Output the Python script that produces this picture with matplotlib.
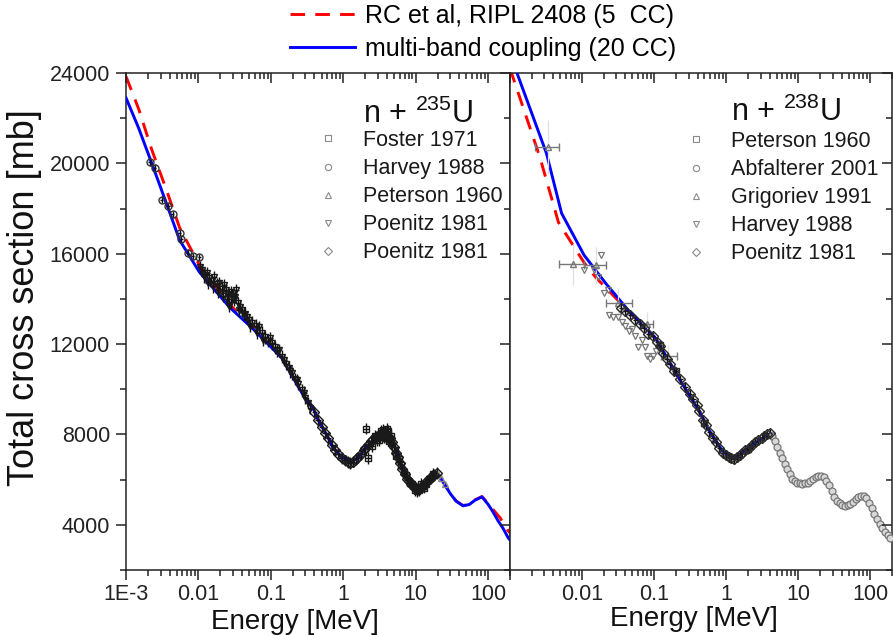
import matplotlib
matplotlib.use('Agg')
import matplotlib.pyplot as plt
from matplotlib.lines import Line2D
from matplotlib.ticker import FixedLocator, LogLocator, FuncFormatter, NullFormatter, MultipleLocator
import numpy as np

plt.rcParams['font.family'] = ['Liberation Sans', 'DejaVu Sans']
plt.rcParams['mathtext.default'] = 'regular'
plt.rcParams['axes.linewidth'] = 1.1

# ---------------- data ----------------
x_ticks = [1e-3, 1e-2, 1e-1, 1, 10, 100]
x_ticklabels = ['1E-3', '0.01', '0.1', '1', '10', '100']
y_ticks = [4000, 8000, 12000, 16000, 20000, 24000]

# n + U235 model curves
E235_model = [0.001, 0.0015, 0.00227, 0.0035, 0.0055, 0.0103, 0.0267, 0.0563, 0.14, 0.29, 0.38, 0.45,
              0.62, 0.716, 0.85, 1.25, 1.6, 2.0, 2.6, 3.2, 3.7, 4.4, 5.2, 6.2, 7.8, 9.6, 11, 13.6,
              17, 19.6, 22, 26, 30, 36, 45, 55, 65, 82, 100, 115, 137, 160, 189, 200]
S235_multiband = [22900, 21550, 20000, 18350, 16600, 15190, 13640, 12680, 11400, 9650, 9200, 8650,
                  7850, 7430, 7150, 6750, 6970, 7370, 7720, 7950, 8040, 7860, 7420, 6710, 6080, 5730, 5640, 5860,
                  6170, 6300, 6080, 5700, 5380, 5050, 4840, 4900, 5080, 5240, 4900, 4600, 4175, 3850, 3420, 3330]
E235_rc = [0.001, 0.0015, 0.00227, 0.0035, 0.0055, 0.0103, 0.0267, 0.0563, 0.14, 0.29, 0.38, 0.45,
           0.62, 0.716, 0.85, 1.25, 1.6, 2.0, 2.6, 3.2, 3.7, 4.4, 5.2, 6.2, 7.8, 9.6, 11, 13.6,
           17, 19.6, 22, 26, 30, 36, 45, 55, 65, 82, 100, 115, 146, 170, 189, 200]
S235_rc = [23850, 22400, 20600, 18950, 17150, 15500, 13760, 12760, 11450, 9680, 9220, 8660,
           7860, 7440, 7160, 6760, 6980, 7380, 7730, 7960, 8050, 7870, 7430, 6720, 6090, 5740, 5650, 5870,
           6180, 6310, 6090, 5710, 5390, 5060, 4850, 4920, 5100, 5250, 4950, 4700, 4310, 3950, 3730, 3650]

# n + U235 experiments
E235_foster = [2.07, 2.2, 2.5, 2.9, 3.3, 3.5, 3.7, 3.9, 4.1, 4.3, 4.6, 5.1, 5.8, 6.8, 8.3, 9.8,
               11.2, 12.0, 14.0, 17.5, 2.7, 3.1, 3.6, 4.0, 4.5, 5.4, 6.3, 7.3, 9.0, 10.5, 12.8, 15.0]
S235_foster = [8260, 6970, 7500, 7750, 8150, 8200, 8100, 7850, 8150, 7700, 7600, 7300, 6900, 6350,
               5850, 5550, 5550, 5800, 5800, 6250, 7950, 7750, 7900, 8250, 7950, 7050, 6650, 6200,
               5800, 5500, 5650, 6050]
E235_harvey = [0.00213, 0.0025, 0.0031, 0.0038, 0.0044, 0.0055, 0.0058, 0.0071, 0.0083, 0.0103]
S235_harvey = [20050, 19800, 18400, 18100, 17750, 16900, 16650, 16050, 15900, 15850]
E235_peterson = [20.5, 22.0, 25.6]
S235_peterson = [6250, 6080, 5820]
E235_poenitz_a = [0.0105, 0.0113, 0.0122, 0.0132, 0.0141, 0.0150, 0.0165, 0.0178, 0.0194, 0.0210,
                  0.0225, 0.0241, 0.0255, 0.0266, 0.0280, 0.0292, 0.0310, 0.0331, 0.0350, 0.0375,
                  0.0401, 0.0440, 0.0470, 0.050, 0.055, 0.062, 0.068, 0.075, 0.083, 0.092, 0.103,
                  0.115, 0.128, 0.143, 0.160, 0.177, 0.194, 0.215, 0.240, 0.270, 0.300, 0.330, 0.350,
                  0.0118, 0.0136, 0.0158, 0.0186, 0.0218, 0.0248, 0.0286, 0.0320, 0.0362, 0.0420,
                  0.0520, 0.0650, 0.0790, 0.0970, 0.122, 0.152, 0.185, 0.228, 0.285]
S235_poenitz_a = [15400, 15260, 15050, 15150, 14910, 14800, 14950, 14650, 14690, 14450,
                  14600, 14380, 14200, 13700, 14300, 14150, 13950, 14380, 13800, 13650,
                  13490, 13350, 13200, 13050, 12950, 12820, 12750, 12500, 12300, 12150, 12030,
                  11850, 11720, 11450, 11140, 10950, 10700, 10450, 10250, 9950, 9630, 9400, 9190,
                  15000, 14700, 14550, 14300, 14150, 14000, 13850, 14100, 13500, 13300,
                  12800, 12500, 12200, 12250, 11700, 11300, 10800, 10400, 9850]
E235_poenitz_b = [0.40, 0.45, 0.50, 0.56, 0.62, 0.70, 0.78, 0.85, 0.95, 1.05, 1.15, 1.25, 1.35, 1.5,
                  1.6, 1.75, 1.9, 2.0, 2.2, 2.4, 2.6, 2.8, 3.0, 3.2, 3.4, 3.6, 3.8, 4.0, 4.2, 4.4,
                  4.7, 5.0, 5.3, 5.6, 6.0, 6.5, 7.0, 7.5, 8.0, 8.6, 9.3, 10.0, 10.8, 11.6, 12.5,
                  13.5, 14.5, 15.5, 16.8, 18.0, 19.5]
S235_poenitz_b = [9000, 8650, 8350, 8050, 7850, 7550, 7300, 7150, 6950, 6850, 6780, 6750, 6800, 6900,
                  6980, 7150, 7300, 7400, 7550, 7700, 7800, 7900, 7950, 8000, 8050, 8050, 8000, 7950,
                  7900, 7850, 7650, 7450, 7200, 7000, 6750, 6450, 6250, 6050, 5950, 5800, 5700, 5650,
                  5600, 5650, 5700, 5850, 5950, 6050, 6150, 6200, 6280]

# n + U238 model curves
E238_model = [0.001, 0.00125, 0.0032, 0.0052, 0.0107, 0.0213, 0.044, 0.103, 0.265, 0.42, 0.58, 0.88,
              1.09, 1.29, 1.66, 2.27, 3.1, 4.1, 5.0, 6.0, 7.0, 8.2, 9.7, 11.4, 13.5, 16.0, 19.0,
              22.5, 26.7, 31.6, 37.5, 44.4, 52.7, 62.5, 74.1, 80.7, 95.7, 113, 135, 160, 190, 200]
S238_multiband = [25100, 24000, 20450, 17790, 15930, 14690, 13490, 12290, 10070, 9050, 8170, 7280,
                  7060, 6925, 7190, 7500, 7810, 8035, 7450, 6950, 6450, 6050, 5870, 5815, 5870, 6050,
                  6170, 6100, 5750, 5250, 4950, 4840, 4920, 5130, 5280, 5280, 4980, 4490, 4050, 3700,
                  3430, 3380]
E238_rc = [0.001, 0.0026, 0.0047, 0.0107, 0.0155, 0.0213, 0.044, 0.103, 0.265, 0.42, 0.58, 0.88,
           1.09, 1.29, 1.66, 2.27, 3.1, 4.1, 5.0, 6.0, 7.0, 8.2, 9.7, 11.4, 13.5, 16.0, 19.0,
           22.5, 26.7, 31.6, 37.5, 44.4, 52.7, 62.5, 74.1, 80.7, 95.7, 113, 135, 160, 190, 200]
S238_rc = [24200, 20270, 17390, 15600, 14950, 14500, 13450, 12270, 10060, 9040, 8160, 7270,
           7050, 6920, 7180, 7490, 7800, 8030, 7440, 6940, 6440, 6040, 5860, 5810, 5860, 6040,
           6160, 6090, 5740, 5240, 4940, 4830, 4910, 5120, 5270, 5270, 4990, 4500, 4060, 3710,
           3440, 3390]

# n + U238 experiments
E238_peterson = [0.12, 0.2, 0.5, 2.0]
S238_peterson = [11950, 10800, 8500, 7350]
E238_abfalterer = [4.3, 4.7, 5.1, 5.5, 6.0, 6.5, 7.0, 7.6, 8.2, 8.9, 9.7, 10.5, 11.4, 12.4, 13.5,
                   14.7, 16.0, 17.4, 19.0, 20.7, 22.5, 24.5, 26.7, 29.0, 31.6, 34.4, 37.5, 40.8,
                   44.4, 48.4, 52.7, 57.4, 62.5, 68.0, 74.1, 80.7, 87.9, 95.7, 104, 113, 124, 135,
                   147, 160, 174, 190]
S238_abfalterer = [7950, 7700, 7450, 7200, 6950, 6700, 6450, 6250, 6050, 5950, 5870, 5830, 5815,
                   5830, 5870, 5950, 6050, 6120, 6170, 6160, 6100, 5950, 5750, 5500, 5250, 5070,
                   4950, 4870, 4840, 4860, 4920, 5020, 5130, 5220, 5280, 5280, 5180, 4980, 4740,
                   4490, 4250, 4050, 3850, 3700, 3560, 3430]
E238_grigoriev = [0.0034, 0.0076, 0.0155, 0.032, 0.080, 0.155]
S238_grigoriev = [20720, 15530, 15480, 13840, 12910, 11490]
E238_grigoriev_lo = [0.0022, 0.0048, 0.0107, 0.0213, 0.068, 0.125]
E238_grigoriev_hi = [0.0048, 0.0107, 0.0213, 0.050, 0.097, 0.21]
S238_grigoriev_err = [1200, 900, 800, 600, 500, 450]
E238_harvey = [0.0107, 0.0146, 0.0165, 0.0182, 0.020, 0.0227, 0.0234, 0.0265, 0.032, 0.036, 0.040,
               0.045, 0.050, 0.055, 0.060, 0.068, 0.075, 0.080, 0.088, 0.097, 0.105]
S238_harvey = [15260, 15260, 14950, 15930, 14240, 14380, 13270, 13180, 13180, 13000, 12820,
               12600, 12690, 12380, 11850, 12160, 11850, 11490, 11360, 11490, 11700]
E238_poenitz = [0.035, 0.040, 0.047, 0.055, 0.064, 0.072, 0.083, 0.095, 0.11, 0.12, 0.133, 0.15,
                0.165, 0.19, 0.23, 0.27, 0.31, 0.35, 0.39, 0.42, 0.47, 0.52, 0.58, 0.65, 0.72,
                0.80, 0.90, 1.0, 1.09, 1.18, 1.29, 1.42, 1.55, 1.66, 1.85, 2.05, 2.27, 2.5, 2.8,
                3.1, 3.4, 3.7, 4.1]
S238_poenitz = [13600, 13450, 13300, 13050, 12900, 12700, 12450, 12350, 12100, 11900, 11600, 11350,
                11100, 10800, 10450, 10100, 9800, 9550, 9300, 9050, 8650, 8400, 8100, 7850, 7650,
                7400, 7200, 7100, 7000, 6950, 6900, 7000, 7100, 7200, 7300, 7400, 7550, 7650, 7750,
                7850, 7950, 8000, 8050]

legend_models = ['RC et al, RIPL 2408 (5  CC)', 'multi-band coupling (20 CC)']
legend_235 = ['Foster 1971', 'Harvey 1988', 'Peterson 1960', 'Poenitz 1981', 'Poenitz 1981']
legend_238 = ['Peterson 1960', 'Abfalterer 2001', 'Grigoriev 1991', 'Harvey 1988', 'Poenitz 1981']

# ---------------- figure ----------------
W, H = 893, 635
fig = plt.figure(figsize=(W / 100, H / 100), dpi=100)


def fx(px):
    return px / W


def fy(py):
    return 1 - py / H


axL = fig.add_axes([fx(126), fy(570), fx(510) - fx(126), fy(73) - fy(570)])
axR = fig.add_axes([fx(510), fy(570), fx(892) - fx(510), fy(73) - fy(570)])

RED = '#ff0000'
BLUE = '#0000ff'
LW = 2.1
DASH = (5.0, 3.5)
DARK = '#222222'


def fmt_left(v, pos):
    for t, l in zip(x_ticks, x_ticklabels):
        if abs(v - t) / t < 1e-6:
            return l
    return ''


def fmt_right(v, pos):
    for t, l in zip(x_ticks[1:], x_ticklabels[1:]):
        if abs(v - t) / t < 1e-6:
            return l
    return ''


def style_axes(ax, formatter, ylabels):
    ax.set_xscale('log')
    ax.set_xlim(1e-3, 200)
    ax.set_ylim(2000, 24000)
    ax.xaxis.set_major_locator(FixedLocator(x_ticks))
    ax.xaxis.set_minor_locator(LogLocator(base=10, subs=np.arange(2, 10) * 1.0, numticks=60))
    ax.xaxis.set_major_formatter(FuncFormatter(formatter))
    ax.xaxis.set_minor_formatter(NullFormatter())
    ax.yaxis.set_major_locator(FixedLocator(y_ticks))
    ax.yaxis.set_minor_locator(MultipleLocator(2000))
    ax.tick_params(which='major', direction='out', length=7, width=1.1, labelsize=15.5,
                   colors=DARK, pad=3)
    ax.tick_params(which='minor', direction='out', length=4, width=1.1, colors=DARK)
    ax.tick_params(top=False, right=False, labelleft=ylabels)
    ax.tick_params(axis='y', pad=4.5)
    for s in ax.spines.values():
        s.set_color(DARK)
    # top ticks pointing inward
    tw = ax.twiny()
    tw.set_xscale('log')
    tw.set_xlim(1e-3, 200)
    tw.xaxis.set_major_locator(FixedLocator(x_ticks))
    tw.xaxis.set_minor_locator(LogLocator(base=10, subs=np.arange(2, 10) * 1.0, numticks=60))
    tw.xaxis.set_major_formatter(NullFormatter())
    tw.xaxis.set_minor_formatter(NullFormatter())
    tw.tick_params(axis='x', which='major', direction='in', length=7, width=1.1, colors=DARK)
    tw.tick_params(axis='x', which='minor', direction='in', length=4, width=1.1, colors=DARK)
    for s in tw.spines.values():
        s.set_visible(False)
    return tw


style_axes(axL, fmt_left, True)
style_axes(axR, fmt_right, False)

# right-side ticks of right panel
twr = axR.twinx()
twr.set_ylim(2000, 24000)
twr.yaxis.set_major_locator(FixedLocator(y_ticks))
twr.yaxis.set_minor_locator(MultipleLocator(2000))
twr.yaxis.set_major_formatter(NullFormatter())
twr.tick_params(axis='y', which='major', direction='in', length=7, width=1.1, colors=DARK)
twr.tick_params(axis='y', which='minor', direction='in', length=4, width=1.1, colors=DARK)
for s in twr.spines.values():
    s.set_visible(False)


def xerr_frac(E, f):
    E = np.asarray(E, float)
    return [E - E / (1 + f), E * f]


# ---- left panel (U235)
axL.plot(E235_rc, S235_rc, color=RED, lw=LW, dashes=DASH, zorder=2)
axL.plot(E235_model, S235_multiband, color=BLUE, lw=LW, zorder=3)

mk = dict(fillstyle='none', markersize=5, markeredgewidth=1.0, linestyle='none', zorder=5)
eb = dict(elinewidth=1.0, capsize=0)
axL.errorbar(E235_harvey, S235_harvey, yerr=150, xerr=xerr_frac(E235_harvey, 0.05),
             marker='o', color='#333333', ecolor='#111111', **mk, **eb)
axL.errorbar(E235_poenitz_a, S235_poenitz_a, yerr=280, xerr=xerr_frac(E235_poenitz_a, 0.09),
             marker='v', color='#1a1a1a', ecolor='#111111', **mk, **eb)
axL.errorbar(E235_poenitz_b, S235_poenitz_b, yerr=260, xerr=xerr_frac(E235_poenitz_b, 0.09),
             marker='D', color='#1a1a1a', ecolor='#111111', **mk, **eb)
axL.errorbar(E235_foster, S235_foster, yerr=260, xerr=xerr_frac(E235_foster, 0.09),
             marker='s', color='#1a1a1a', ecolor='#111111', **mk, **eb)
axL.plot(E235_peterson, S235_peterson, marker='^', color='#888888', fillstyle='none',
         markersize=4, linestyle='none', zorder=5)

# ---- right panel (U238)
axR.plot(E238_rc, S238_rc, color=RED, lw=LW, dashes=DASH, zorder=2)
axR.plot(E238_model, S238_multiband, color=BLUE, lw=LW, zorder=3)

g_E = np.asarray(E238_grigoriev)
g_xerr = [g_E - np.asarray(E238_grigoriev_lo), np.asarray(E238_grigoriev_hi) - g_E]
axR.errorbar(E238_grigoriev, S238_grigoriev, yerr=S238_grigoriev_err, fmt='none',
             ecolor='#e0e0e0', elinewidth=0.9, capsize=0, zorder=3.5)
axR.errorbar(E238_grigoriev, S238_grigoriev, xerr=g_xerr, fmt='none',
             ecolor='#777777', elinewidth=1.0, capsize=3, capthick=1.0, zorder=3.6)
axR.plot(E238_grigoriev, S238_grigoriev, marker='^', color='#777777', fillstyle='none',
         markersize=5, linestyle='none', zorder=5)
axR.plot(E238_harvey, S238_harvey, marker='v', color='#777777', fillstyle='none',
         markersize=5, markeredgewidth=0.9, linestyle='none', zorder=5)
axR.errorbar(E238_poenitz, S238_poenitz, yerr=200, xerr=xerr_frac(E238_poenitz, 0.08),
             marker='D', color='#2a2a2a', ecolor='#111111', **mk, **eb)
axR.errorbar(E238_peterson, S238_peterson, yerr=200, xerr=xerr_frac(E238_peterson, 0.08),
             marker='s', color='#2a2a2a', ecolor='#111111', **mk, **eb)
axR.plot(E238_abfalterer, S238_abfalterer, marker='o', markerfacecolor='#d8d8d8',
         markeredgecolor='#777777', markersize=5, markeredgewidth=0.9, linestyle='none', zorder=5)


# ---- panel legends
def proxies(markers):
    return [Line2D([], [], marker=m, color='#8a8a8a', fillstyle='none', markersize=4.5,
                   markeredgewidth=0.8, linestyle='none') for m in markers]


legL = fig.legend(proxies(['s', 'o', '^', 'v', 'D']), legend_235, loc='upper left',
                  bbox_to_anchor=(fx(317), fy(130)), frameon=False, fontsize=15.5,
                  handlelength=1.0, handletextpad=1.13, labelspacing=0.33, borderpad=0,
                  borderaxespad=0)
legR = fig.legend(proxies(['s', 'o', '^', 'v', 'D']), legend_238, loc='upper left',
                  bbox_to_anchor=(fx(685), fy(131)), frameon=False, fontsize=15.5,
                  handlelength=1.0, handletextpad=1.13, labelspacing=0.33, borderpad=0,
                  borderaxespad=0)
for lg in (legL, legR):
    for t in lg.get_texts():
        t.set_color('#1a1a1a')

fig.text(fx(363), fy(123), r'n + $^{235}$U', fontsize=22, va='baseline', ha='left', color='#111111')
fig.text(fx(731), fy(121), r'n + $^{238}$U', fontsize=22, va='baseline', ha='left', color='#111111')

# ---- top legend
model_handles = [Line2D([], [], color=RED, lw=LW, dashes=DASH),
                 Line2D([], [], color=BLUE, lw=LW)]
fig.legend(model_handles, legend_models, loc='upper left', bbox_to_anchor=(fx(290), fy(4)),
           frameon=False, fontsize=18, handlelength=2.6, handletextpad=0.4, labelspacing=0.36,
           borderpad=0, borderaxespad=0)

# ---- axis labels
fig.text(fx(25), fy(298), 'Total cross section [mb]', rotation=90, fontsize=26,
         ha='center', va='center', color='#111111')
fig.text(fx(295), fy(622), 'Energy [MeV]', fontsize=20, ha='center', va='center', color='#111111')
fig.text(fx(694), fy(619), 'Energy [MeV]', fontsize=20, ha='center', va='center', color='#111111')

fig.savefig('out.png', dpi=100)
